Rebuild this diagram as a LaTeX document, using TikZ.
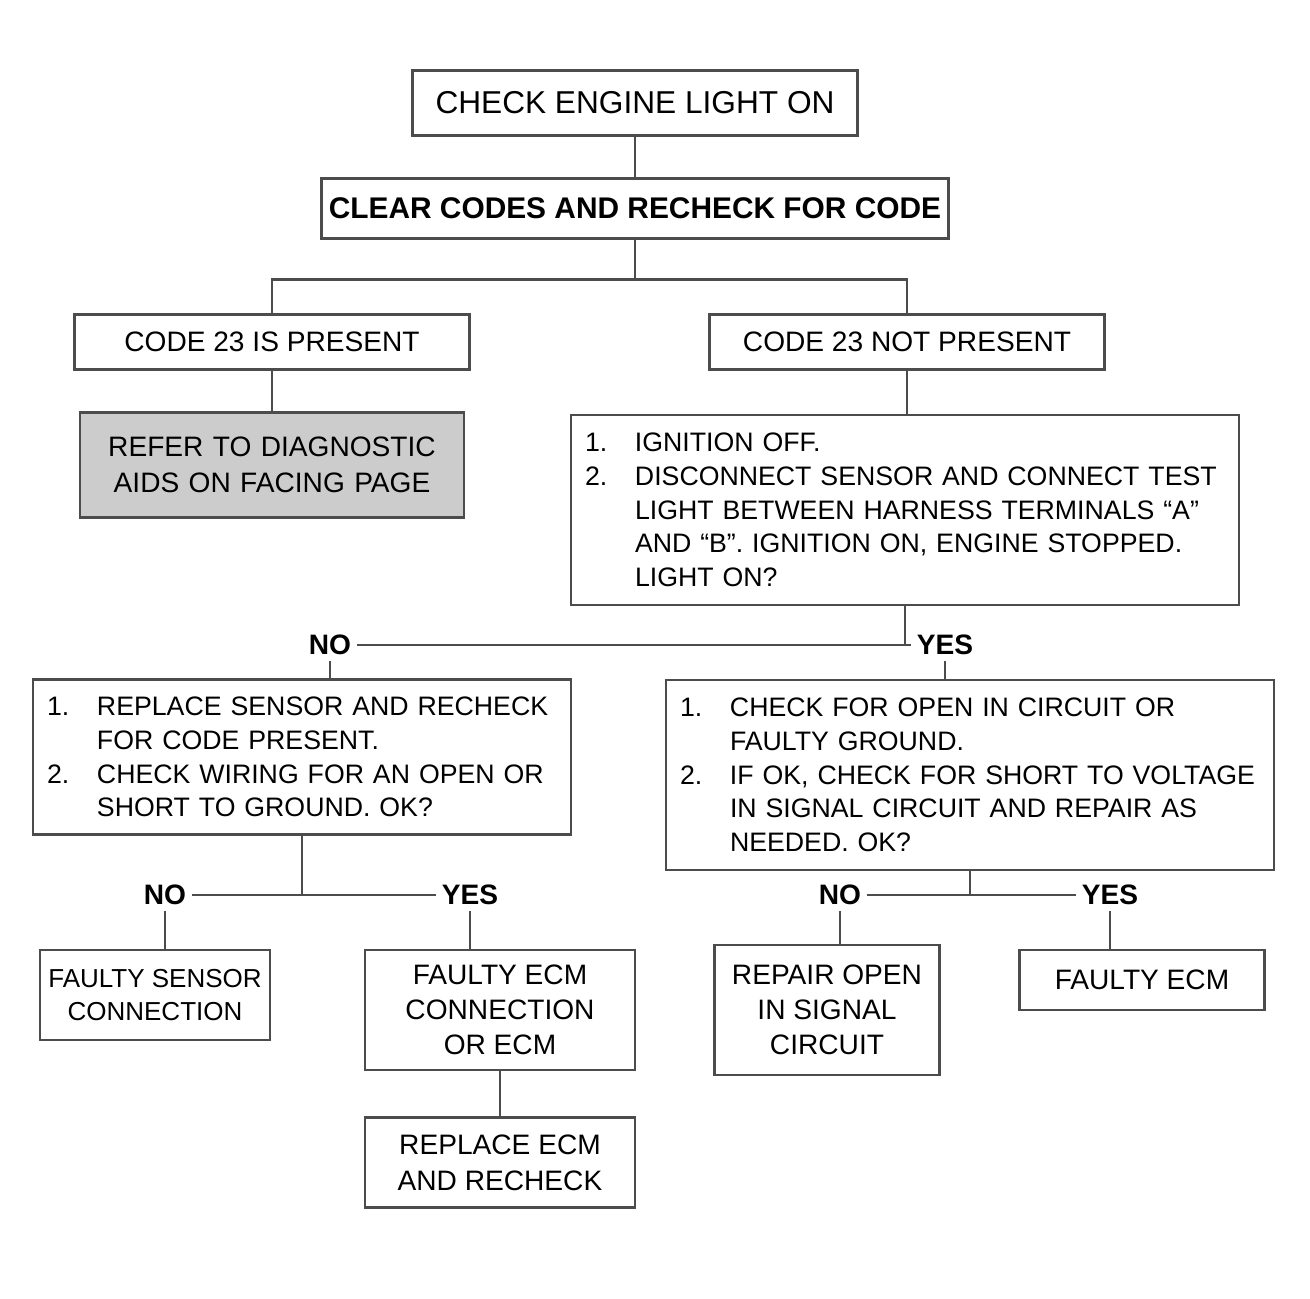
\documentclass[tikz,border=0pt]{standalone}
\usepackage{fontspec}
\setmainfont{Liberation Sans}
\usetikzlibrary{positioning,calc}
\tikzstyle{stepbox}=[rectangle, draw=black!70, line width=0.8pt, inner sep=2pt, align=center, font=\fontsize{8}{10}\selectfont]
\tikzstyle{listbox}=[rectangle, draw=black!70, line width=0.8pt, inner sep=4pt, align=left, font=\fontsize{7.6}{9.6}\selectfont]
\tikzstyle{lbl}=[fill=white, inner sep=1.5pt, font=\bfseries\fontsize{8}{9}\selectfont]
\tikzstyle{line}=[-, line width=0.8pt, black!70]
\newcommand\stepitem[2]{\hangindent=5mm\hangafter=1\noindent\makebox[5mm][l]{#1}#2\par}
\hyphenpenalty=10000

\begin{document}
\begin{tikzpicture}
\useasboundingbox (0,0) rectangle (13.10,-12.99);

    \node (start) [stepbox, minimum width=4.45cm, minimum height=0.65cm, font=\fontsize{9}{11}\selectfont] at (6.35,-1.03) {CHECK ENGINE LIGHT ON};
    \node (clr) [stepbox, minimum width=5.95cm, minimum height=0.6cm, font=\bfseries\fontsize{8.5}{10}\selectfont, below=0.4cm of start] {CLEAR CODES AND RECHECK FOR CODE};

    \coordinate (split1) at ($(clr.south)+(0,-0.4)$);

% code present or not
    \node (pres) [stepbox, minimum width=3.95cm, minimum height=0.55cm] at (2.72,-3.42) {CODE 23 IS PRESENT};
    \node (nopres) [stepbox, minimum width=3.95cm, minimum height=0.55cm] at (9.07,-3.42) {CODE 23 NOT PRESENT};

    \node (aids) [stepbox, fill=black!20, text width=3.7cm, minimum height=1.05cm, below=0.4cm of pres] {REFER TO DIAGNOSTIC AIDS ON FACING PAGE};
    \node (test) [listbox, text width=6.4cm, minimum height=1.9cm] at (9.05,-5.1)
        {\stepitem{1.}{IGNITION OFF.}
         \stepitem{2.}{DISCONNECT SENSOR AND CONNECT TEST LIGHT BETWEEN HARNESS TERMINALS ``A'' AND ``B''. IGNITION ON, ENGINE STOPPED. LIGHT ON?}};

    \node (no1) [lbl] at (3.3,-6.45) {NO};
    \node (yes1) [lbl] at (9.45,-6.45) {YES};

%% second level
    \node (chk) [listbox, text width=5.1cm, minimum height=1.55cm] at (3.02,-7.57)
        {\stepitem{1.}{REPLACE SENSOR AND RECHECK FOR CODE PRESENT.}
         \stepitem{2.}{CHECK WIRING FOR AN OPEN OR SHORT TO GROUND. OK?}};
    \node (ckt) [listbox, text width=5.8cm, minimum height=1.9cm] at (9.7,-7.75)
        {\stepitem{1.}{CHECK FOR OPEN IN CIRCUIT OR FAULTY GROUND.}
         \stepitem{2.}{IF OK, CHECK FOR SHORT TO VOLTAGE IN SIGNAL CIRCUIT AND REPAIR AS NEEDED. OK?}};

    \node (no2) [lbl] at (1.65,-8.95) {NO};
    \node (yes2) [lbl] at (4.7,-8.95) {YES};
    \node (no3) [lbl] at (8.4,-8.95) {NO};
    \node (yes3) [lbl] at (11.1,-8.95) {YES};

% results
    \node (conn) [stepbox, minimum width=2.3cm, minimum height=0.9cm, font=\fontsize{7.4}{9.5}\selectfont] at (1.55,-9.95) {FAULTY SENSOR\\CONNECTION};
    \node (ecm) [stepbox, minimum width=2.7cm, minimum height=1.2cm] at (5.0,-10.1) {FAULTY ECM\\CONNECTION\\OR ECM};
    \node (recheck) [stepbox, minimum width=2.7cm, minimum height=0.9cm, below=0.45cm of ecm] {REPLACE ECM\\AND RECHECK};
    \node (repair) [stepbox, minimum width=2.25cm, minimum height=1.3cm] at (8.27,-10.1) {REPAIR OPEN\\IN SIGNAL\\CIRCUIT};
    \node (faulty) [stepbox, minimum width=2.45cm, minimum height=0.6cm] at (11.42,-9.8) {FAULTY ECM};

%lines
   \draw[line] (start.south) -- (clr.north);
   \draw[line] (clr.south) -- (split1);
   \draw[line] (pres.north) |- (split1) -| (nopres.north);
   \draw[line] (pres.south) -- (aids.north);
   \draw[line] (nopres.south) -- (nopres.south |- test.north);

   \draw[line] (test.south) -- (test.south |- yes1);
   \draw[line] (no1.east) -- (yes1.west);
   \draw[line] (no1.south) -- (no1.south |- chk.north);
   \draw[line] (yes1.south) -- (yes1.south |- ckt.north);

   \draw[line] (chk.south) -- (chk.south |- no2);
   \draw[line] (no2.east) -- (yes2.west);
   \draw[line] (no2.south) -- (no2.south |- conn.north);
   \draw[line] (yes2.south) -- (yes2.south |- ecm.north);
   \draw[line] (ecm.south) -- (recheck.north);

   \draw[line] (ckt.south) -- (ckt.south |- no3);
   \draw[line] (no3.east) -- (yes3.west);
   \draw[line] (no3.south) -- (no3.south |- repair.north);
   \draw[line] (yes3.south) -- (yes3.south |- faulty.north);

\end{tikzpicture}
\end{document}
